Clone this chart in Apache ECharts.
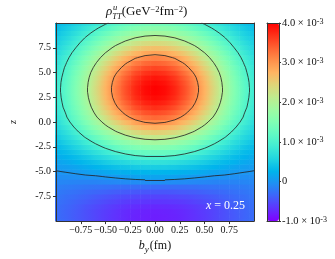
<!DOCTYPE html>
<html><head><meta charset="utf-8">
<script src="https://cdn.jsdelivr.net/npm/echarts@6/dist/echarts.min.js"></script>
<style>html,body{margin:0;padding:0;background:#fff}#c{width:335px;height:259px}</style>
</head><body><div id="c"></div>
<script>
// b_y grid (fm)
const bValues = [-1.0,-0.9,-0.8,-0.7,-0.6,-0.5,-0.4,-0.3,-0.2,-0.1,0.0,0.1,0.2,0.3,0.4,0.5,0.6,0.7,0.8,0.9,1.0];
// z grid
const zValues = [-10,-9.5,-9,-8.5,-8,-7.5,-7,-6.5,-6,-5.5,-5,-4.5,-4,-3.5,-3,-2.5,-2,-1.5,-1,-0.5,0,0.5,1,1.5,2,2.5,3,3.5,4,4.5,5,5.5,6,6.5,7,7.5,8,8.5,9,9.5,10];
// rho_TT^u in units of 1e-4 GeV^-2 fm^-2, one row per z (bottom to top), one column per b_y
const rhoE4 = [
[-2.9,-3.5,-4.2,-4.9,-5.6,-6.3,-6.9,-7.4,-7.8,-8.0,-8.1,-8.0,-7.8,-7.4,-6.9,-6.3,-5.6,-4.9,-4.2,-3.5,-2.9],
[-3.0,-3.6,-4.3,-4.9,-5.6,-6.3,-6.9,-7.4,-7.8,-8.0,-8.1,-8.0,-7.8,-7.4,-6.9,-6.3,-5.6,-4.9,-4.3,-3.6,-3.0],
[-2.9,-3.6,-4.2,-4.9,-5.6,-6.2,-6.8,-7.3,-7.7,-7.9,-8.0,-7.9,-7.7,-7.3,-6.8,-6.2,-5.6,-4.9,-4.2,-3.6,-2.9],
[-2.8,-3.4,-4.0,-4.7,-5.3,-5.9,-6.4,-6.9,-7.2,-7.4,-7.5,-7.4,-7.2,-6.9,-6.4,-5.9,-5.3,-4.7,-4.0,-3.4,-2.8],
[-2.6,-3.1,-3.7,-4.2,-4.8,-5.3,-5.8,-6.2,-6.5,-6.6,-6.7,-6.6,-6.5,-6.2,-5.8,-5.3,-4.8,-4.2,-3.7,-3.1,-2.6],
[-2.3,-2.8,-3.2,-3.7,-4.2,-4.6,-5.0,-5.3,-5.5,-5.7,-5.7,-5.7,-5.5,-5.3,-5.0,-4.6,-4.2,-3.7,-3.2,-2.8,-2.3],
[-2.0,-2.4,-2.7,-3.1,-3.4,-3.7,-4.0,-4.2,-4.4,-4.5,-4.5,-4.5,-4.4,-4.2,-4.0,-3.7,-3.4,-3.1,-2.7,-2.4,-2.0],
[-1.6,-1.9,-2.1,-2.3,-2.5,-2.6,-2.8,-2.9,-2.9,-3.0,-3.0,-3.0,-2.9,-2.9,-2.8,-2.6,-2.5,-2.3,-2.1,-1.9,-1.6],
[-1.1,-1.2,-1.3,-1.3,-1.3,-1.1,-1.0,-0.8,-0.7,-0.6,-0.6,-0.6,-0.7,-0.8,-1.0,-1.1,-1.3,-1.3,-1.3,-1.2,-1.1],
[-0.6,-0.6,-0.5,-0.3,-0.2,0.1,0.4,0.7,1.0,1.2,1.2,1.2,1.0,0.7,0.4,0.1,-0.2,-0.3,-0.5,-0.6,-0.6],
[-0.1,0.1,0.4,0.7,1.1,1.5,1.9,2.2,2.5,2.6,2.7,2.6,2.5,2.2,1.9,1.5,1.1,0.7,0.4,0.1,-0.1],
[0.5,0.8,1.3,1.9,2.5,3.1,3.7,4.2,4.6,4.9,5.0,4.9,4.6,4.2,3.7,3.1,2.5,1.9,1.3,0.8,0.5],
[1.1,1.6,2.3,3.1,3.9,4.8,5.6,6.3,6.9,7.3,7.4,7.3,6.9,6.3,5.6,4.8,3.9,3.1,2.3,1.6,1.1],
[1.7,2.4,3.3,4.4,5.5,6.6,7.7,8.6,9.4,9.8,10.0,9.8,9.4,8.6,7.7,6.6,5.5,4.4,3.3,2.4,1.7],
[2.4,3.3,4.5,5.8,7.2,8.6,9.9,11.1,12.0,12.6,12.8,12.6,12.0,11.1,9.9,8.6,7.2,5.8,4.5,3.3,2.4],
[3.0,4.2,5.6,7.3,8.9,10.6,12.3,13.7,14.8,15.5,15.7,15.5,14.8,13.7,12.3,10.6,8.9,7.3,5.6,4.2,3.0],
[3.8,5.2,6.8,8.7,10.7,12.7,14.7,16.3,17.6,18.4,18.7,18.4,17.6,16.3,14.7,12.7,10.7,8.7,6.8,5.2,3.8],
[4.5,6.1,8.1,10.3,12.6,14.9,17.1,19.0,20.5,21.5,21.8,21.5,20.5,19.0,17.1,14.9,12.6,10.3,8.1,6.1,4.5],
[5.2,7.1,9.3,11.8,14.5,17.1,19.6,21.8,23.4,24.5,24.9,24.5,23.4,21.8,19.6,17.1,14.5,11.8,9.3,7.1,5.2],
[5.9,8.0,10.5,13.3,16.3,19.2,22.0,24.4,26.3,27.5,27.9,27.5,26.3,24.4,22.0,19.2,16.3,13.3,10.5,8.0,5.9],
[6.6,8.9,11.6,14.7,17.9,21.2,24.2,26.8,28.9,30.2,30.7,30.2,28.9,26.8,24.2,21.2,17.9,14.7,11.6,8.9,6.6],
[7.2,9.7,12.7,16.0,19.5,23.0,26.3,29.1,31.4,32.8,33.3,32.8,31.4,29.1,26.3,23.0,19.5,16.0,12.7,9.7,7.2],
[7.6,10.2,13.4,16.9,20.7,24.4,27.9,30.9,33.3,34.8,35.3,34.8,33.3,30.9,27.9,24.4,20.7,16.9,13.4,10.2,7.6],
[8.0,10.8,14.1,17.8,21.7,25.6,29.3,32.5,35.0,36.5,37.1,36.5,35.0,32.5,29.3,25.6,21.7,17.8,14.1,10.8,8.0],
[8.3,11.1,14.6,18.4,22.5,26.5,30.3,33.6,36.2,37.8,38.4,37.8,36.2,33.6,30.3,26.5,22.5,18.4,14.6,11.1,8.3],
[8.5,11.4,15.0,18.9,23.0,27.2,31.1,34.5,37.2,38.8,39.4,38.8,37.2,34.5,31.1,27.2,23.0,18.9,15.0,11.4,8.5],
[8.6,11.6,15.2,19.2,23.3,27.5,31.5,34.9,37.6,39.3,39.9,39.3,37.6,34.9,31.5,27.5,23.3,19.2,15.2,11.6,8.6],
[8.6,11.6,15.2,19.2,23.4,27.6,31.6,35.0,37.7,39.4,40.0,39.4,37.7,35.0,31.6,27.6,23.4,19.2,15.2,11.6,8.6],
[8.5,11.5,15.0,19.0,23.1,27.3,31.2,34.6,37.2,38.9,39.5,38.9,37.2,34.6,31.2,27.3,23.1,19.0,15.0,11.5,8.5],
[8.3,11.2,14.7,18.6,22.6,26.7,30.6,33.9,36.5,38.1,38.7,38.1,36.5,33.9,30.6,26.7,22.6,18.6,14.7,11.2,8.3],
[8.0,10.8,14.2,18.0,21.9,25.8,29.5,32.7,35.3,36.8,37.4,36.8,35.3,32.7,29.5,25.8,21.9,18.0,14.2,10.8,8.0],
[7.7,10.4,13.6,17.1,20.9,24.6,28.2,31.2,33.7,35.2,35.7,35.2,33.7,31.2,28.2,24.6,20.9,17.1,13.6,10.4,7.7],
[7.2,9.8,12.8,16.2,19.7,23.3,26.6,29.5,31.8,33.2,33.7,33.2,31.8,29.5,26.6,23.3,19.7,16.2,12.8,9.8,7.2],
[6.8,9.1,12.0,15.1,18.4,21.7,24.9,27.6,29.7,31.0,31.5,31.0,29.7,27.6,24.9,21.7,18.4,15.1,12.0,9.1,6.8],
[6.2,8.4,11.0,13.9,17.0,20.0,22.9,25.4,27.3,28.6,29.0,28.6,27.3,25.4,22.9,20.0,17.0,13.9,11.0,8.4,6.2],
[5.7,7.7,10.0,12.7,15.4,18.2,20.9,23.1,24.9,26.0,26.4,26.0,24.9,23.1,20.9,18.2,15.4,12.7,10.0,7.7,5.7],
[5.1,6.9,9.0,11.4,13.9,16.4,18.8,20.8,22.4,23.4,23.8,23.4,22.4,20.8,18.8,16.4,13.9,11.4,9.0,6.9,5.1],
[4.6,6.1,8.1,10.2,12.4,14.6,16.7,18.6,20.0,20.9,21.2,20.9,20.0,18.6,16.7,14.6,12.4,10.2,8.1,6.1,4.6],
[4.0,5.4,7.1,9.0,10.9,12.9,14.8,16.4,17.6,18.4,18.7,18.4,17.6,16.4,14.8,12.9,10.9,9.0,7.1,5.4,4.0],
[3.5,4.7,6.2,7.8,9.5,11.2,12.8,14.2,15.3,16.0,16.2,16.0,15.3,14.2,12.8,11.2,9.5,7.8,6.2,4.7,3.5],
[3.0,4.0,5.3,6.7,8.1,9.6,11.0,12.2,13.1,13.7,13.9,13.7,13.1,12.2,11.0,9.6,8.1,6.7,5.3,4.0,3.0]
];
const contourLevels = [0, 10, 20, 30];
const xTickValues = [-0.75,-0.5,-0.25,0,0.25,0.5,0.75];
const yTickValues = [-7.5,-5,-2.5,0,2.5,5,7.5];
const cbTickValues = [-1,0,1,2,3,4];
const annotation = '0.25';

const FONT = 'Liberation Serif';
const VMIN = -10, VMAX = 40;
const cmap = ['#8000ff','#6032fe','#4062fa','#208ef4','#00b4ec','#20d4e1','#40ecd4','#60fac5',
  '#80ffb4','#9ffaa2','#bfec8e','#dfd478','#ffb462','#ff8e4a','#ff6232','#ff3219','#ff0000'];
const cmapRgb = cmap.map(h => [parseInt(h.slice(1,3),16), parseInt(h.slice(3,5),16), parseInt(h.slice(5,7),16)]);
function colorOf(v) {
  let t = (v - VMIN) / (VMAX - VMIN); t = Math.max(0, Math.min(1, t));
  const p = t * (cmapRgb.length - 1); const k = Math.min(Math.floor(p), cmapRgb.length - 2); const f = p - k;
  const a = cmapRgb[k], b = cmapRgb[k+1];
  return 'rgb(' + [0,1,2].map(c => Math.round(a[c] + f * (b[c] - a[c]))).join(',') + ')';
}

const nb = bValues.length;
const cells = [];
zValues.forEach((z, j) => bValues.forEach((b, i) => cells.push([b, z, rhoE4[j][i]])));
const hb = (bValues[1] - bValues[0]) / 2, hz = (zValues[1] - zValues[0]) / 2;

function contourSegs(level) {
  const segs = [];
  const interp = (a, d) => { const t = (level - a[2]) / (d[2] - a[2]); return [a[0] + t * (d[0] - a[0]), a[1] + t * (d[1] - a[1])]; };
  for (let j = 0; j < zValues.length - 1; j++) for (let i = 0; i < nb - 1; i++) {
    const c = [[bValues[i], zValues[j], rhoE4[j][i]], [bValues[i+1], zValues[j], rhoE4[j][i+1]],
               [bValues[i+1], zValues[j+1], rhoE4[j+1][i+1]], [bValues[i], zValues[j+1], rhoE4[j+1][i]]];
    const pts = [];
    for (let k = 0; k < 4; k++) { const a = c[k], d = c[(k+1)%4]; if ((a[2] >= level) !== (d[2] >= level)) pts.push(interp(a, d)); }
    if (pts.length === 2) segs.push({coords: [pts[0], pts[1]]});
    else if (pts.length === 4) { segs.push({coords: [pts[0], pts[1]]}); segs.push({coords: [pts[2], pts[3]]}); }
  }
  return segs;
}
let contourData = [];
contourLevels.forEach(l => { contourData = contourData.concat(contourSegs(l)); });

const frameLine = {show: true, onZero: false, lineStyle: {color: '#333', width: 1}};
const noLab = {show: false}, noTick = {show: false}, noSplit = {show: false};

const chart = echarts.init(document.getElementById('c'), null, {renderer: 'canvas'});
chart.setOption({
  animation: false,
  textStyle: {fontFamily: FONT},
  grid: [
    {left: 41, top: 23, width: 213, height: 199},
    {left: 267, top: 23, width: 12, height: 198}
  ],
  xAxis: [
    {gridIndex: 0, type: 'value', min: -1, max: 1, z: 10, axisLine: frameLine, splitLine: noSplit,
     axisTick: {show: true, length: 3, customValues: xTickValues, lineStyle: {color: '#333'}},
     axisLabel: {customValues: xTickValues, margin: 4, fontFamily: FONT, fontSize: 10, color: '#111',
       formatter: v => (v < 0 ? '\u2212' : '') + Math.abs(v).toFixed(2)},
     name: '{i|b}{y|y}{n|(fm)}', nameLocation: 'middle', nameGap: 14,
     nameTextStyle: {rich: {
       i: {fontFamily: FONT, fontStyle: 'italic', fontSize: 12, color: '#111', verticalAlign: 'bottom', padding: [0,0,2,0]},
       y: {fontFamily: FONT, fontStyle: 'italic', fontSize: 9, color: '#111', verticalAlign: 'bottom'},
       n: {fontFamily: FONT, fontSize: 12, color: '#111', verticalAlign: 'bottom', padding: [0,0,2,1]}}}},
    {gridIndex: 0, type: 'value', position: 'top', min: -1, max: 1, z: 10, axisLine: frameLine, axisTick: noTick, axisLabel: noLab, splitLine: noSplit},
    {gridIndex: 1, type: 'value', min: 0, max: 1, z: 10, axisLine: frameLine, axisTick: noTick, axisLabel: noLab, splitLine: noSplit},
    {gridIndex: 1, type: 'value', position: 'top', min: 0, max: 1, z: 10, axisLine: frameLine, axisTick: noTick, axisLabel: noLab, splitLine: noSplit}
  ],
  yAxis: [
    {gridIndex: 0, type: 'value', min: -10, max: 10, z: 10, axisLine: frameLine, splitLine: noSplit,
     axisTick: {show: true, length: 3, customValues: yTickValues, lineStyle: {color: '#333'}},
     axisLabel: {customValues: yTickValues, margin: 5, fontFamily: FONT, fontSize: 10, color: '#111',
       formatter: v => v.toFixed(1)},
     name: 'z', nameLocation: 'middle', nameGap: 38, nameRotate: 90,
     nameTextStyle: {fontFamily: FONT, fontStyle: 'italic', fontSize: 10, color: '#111'}},
    {gridIndex: 0, type: 'value', position: 'right', min: -10, max: 10, z: 10, axisLine: frameLine, axisTick: noTick, axisLabel: noLab, splitLine: noSplit},
    {gridIndex: 1, type: 'value', min: -1, max: 4, z: 10, axisLine: frameLine, axisTick: noTick, axisLabel: noLab, splitLine: noSplit},
    {gridIndex: 1, type: 'value', position: 'right', min: -1, max: 4, z: 10, axisLine: frameLine, splitLine: noSplit,
     axisTick: {show: true, length: 2, customValues: cbTickValues, lineStyle: {color: '#333'}},
     axisLabel: {customValues: cbTickValues, margin: 3, fontFamily: FONT, fontSize: 10.5, color: '#111',
       formatter: v => v === 0 ? '{n|0}' : '{n|' + v.toFixed(1) + ' \u00d7 10}{s|-3}',
       rich: {n: {fontFamily: FONT, fontSize: 10.5, color: '#111', verticalAlign: 'bottom'},
              s: {fontFamily: FONT, fontSize: 8, color: '#111', verticalAlign: 'top'}}}}
  ],
  visualMap: {
    type: 'continuous', min: VMIN, max: VMAX, dimension: 2, seriesIndex: 0,
    inRange: {color: cmap}, calculable: false, realtime: false, hoverLink: false,
    left: 267, top: 23, itemWidth: 12, itemHeight: 198, padding: 0, text: null, showLabel: false
  },
  graphic: [
    {type: 'text', x: 106, y: 5, z: 20, style: {
      text: '{r|\u03c1}{t|TT}{n|(GeV}{s|\u22122}{n|fm}{s|\u22122}{n|)}',
      rich: {
        r: {fontFamily: FONT, fontStyle: 'italic', fontSize: 13, fill: '#111', verticalAlign: 'bottom', padding: [0,0,3,0]},
        t: {fontFamily: FONT, fontStyle: 'italic', fontSize: 8.5, fill: '#111', verticalAlign: 'bottom'},
        n: {fontFamily: FONT, fontSize: 13, fill: '#111', verticalAlign: 'bottom', padding: [0,0,3,0]},
        s: {fontFamily: FONT, fontSize: 8.5, fill: '#111', verticalAlign: 'top'}}}},
    {type: 'text', x: 113, y: 3, z: 20, style: {text: 'u', fontFamily: FONT, fontStyle: 'italic', fontSize: 8.5, fill: '#111'}},
    {type: 'text', x: 206, y: 200, z: 20, style: {
      text: '{i|x}{n| = ' + annotation + '}',
      rich: {i: {fontFamily: FONT, fontStyle: 'italic', fontSize: 12, fill: '#fff'},
             n: {fontFamily: FONT, fontSize: 12, fill: '#fff'}}}}
  ],
  series: [
    {type: 'custom', xAxisIndex: 0, yAxisIndex: 0, data: cells, clip: true, silent: true, z: 2,
     encode: {x: 0, y: 1},
     renderItem: (params, api) => {
       const b = api.value(0), z = api.value(1), v = api.value(2);
       const idx = params.dataIndex, j = Math.floor(idx / nb), i = idx % nb;
       const vl = i > 0 ? (rhoE4[j][i-1] + v) / 2 : v;
       const vr = i < nb - 1 ? (rhoE4[j][i+1] + v) / 2 : v;
       const p0 = api.coord([b - hb, z + hz]), p1 = api.coord([b + hb, z - hz]);
       return {type: 'rect', shape: {x: p0[0], y: p0[1], width: p1[0] - p0[0] + 0.6, height: p1[1] - p0[1] + 0.6},
               style: {fill: new echarts.graphic.LinearGradient(0, 0, 1, 0, [
                 {offset: 0, color: colorOf(vl)}, {offset: 0.5, color: colorOf(v)}, {offset: 1, color: colorOf(vr)}])}};
     }},
    {type: 'lines', coordinateSystem: 'cartesian2d', xAxisIndex: 0, yAxisIndex: 0, data: contourData,
     silent: true, z: 5, lineStyle: {color: '#222', width: 0.9, opacity: 0.9}}
  ]
});
</script></body></html>
